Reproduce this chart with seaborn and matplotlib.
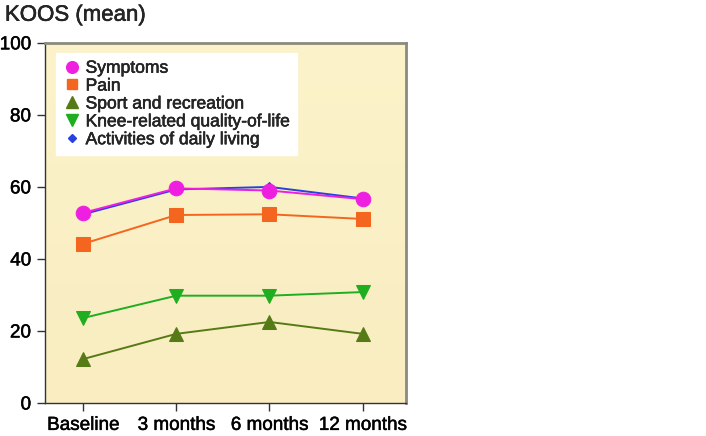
import numpy as np
import pandas as pd
import seaborn as sns
import matplotlib.pyplot as plt
import matplotlib.patheffects as pe
from matplotlib.lines import Line2D
from matplotlib.colors import LinearSegmentedColormap

# Time points and KOOS subscale means
timepoints = ["Baseline", "3 months", "6 months", "12 months"]
symptoms = [52.8, 59.6, 59.0, 56.6]
pain = [44.2, 52.2, 52.4, 51.1]
sport = [12.2, 19.2, 22.5, 19.2]
qol = [23.6, 29.8, 29.8, 30.8]
adl = [52.4, 59.3, 60.0, 56.8]

series = [
    ("Activities of daily living", adl, "#2a3fe0", "D", 5.5),
    ("Knee-related quality-of-life", qol, "#1fae1f", "v", 10),
    ("Sport and recreation", sport, "#567a16", "^", 10),
    ("Pain", pain, "#f4661f", "s", 9.5),
    ("Symptoms", symptoms, "#ee1fe0", "o", 10.5),
]
legend_order = ["Symptoms", "Pain", "Sport and recreation",
                "Knee-related quality-of-life", "Activities of daily living"]

sns.set_style("ticks")
plt.rcParams["font.family"] = ["Liberation Sans", "DejaVu Sans"]
heavy = [pe.withStroke(linewidth=0.35, foreground="black")]

fig = plt.figure(figsize=(7.06, 4.36), dpi=100)
ax = fig.add_axes([0.0637, 0.0757, 0.512, 0.826])

# almost flat cream background
grad = np.linspace(0, 1, 256).reshape(-1, 1)
cmap = LinearSegmentedColormap.from_list("cream", ["#fcf3ca", "#f9edc1"])
ax.imshow(grad, cmap=cmap, aspect="auto", extent=[-0.41, 3.47, 0, 100],
          zorder=0, origin="upper")

x = np.arange(len(timepoints))
handles = {}
for i, (name, vals, color, marker, ms) in enumerate(series):
    df = pd.DataFrame({"x": x, "y": vals})
    sns.lineplot(data=df, x="x", y="y", ax=ax, color=color, marker=marker,
                 markersize=ms, markeredgecolor=color, linewidth=1.4,
                 zorder=3 + i)
    handles[name] = Line2D([], [], linestyle="none", marker=marker,
                           color=color, markersize=ms * 0.8)

ax.set_xlim(-0.41, 3.47)
ax.set_ylim(0, 100)
ax.set_yticks([0, 20, 40, 60, 80, 100])
ax.set_xticks(x)
ax.set_xticklabels(timepoints)
ax.set_xlabel("")
ax.set_ylabel("")
ax.tick_params(axis="both", labelsize=13.6, length=6, width=1, color="#333333",
               direction="out", pad=4, labelcolor="black")
for lab in ax.get_xticklabels() + ax.get_yticklabels():
    lab.set_path_effects(heavy)

for s in ["top", "right"]:
    ax.spines[s].set_visible(True)
    ax.spines[s].set_color("#8a8a80")
    ax.spines[s].set_linewidth(2)
for s in ["left", "bottom"]:
    ax.spines[s].set_color("#333333")
    ax.spines[s].set_linewidth(1)

leg = ax.legend([handles[n] for n in legend_order], legend_order,
                loc="upper left", bbox_to_anchor=(0.03, 0.973), fontsize=12.6,
                frameon=True, fancybox=False, framealpha=1, edgecolor="white",
                handletextpad=0.25, labelspacing=0.15, handlelength=1.0,
                borderpad=0.45, borderaxespad=0)
leg.get_frame().set_facecolor("white")
leg.set_zorder(10)
for t in leg.get_texts():
    t.set_path_effects(heavy)

fig.text(0.007, 0.965, "KOOS (mean)", fontsize=16, ha="left", va="center",
         path_effects=heavy)

fig.savefig("out.png", dpi=100)
